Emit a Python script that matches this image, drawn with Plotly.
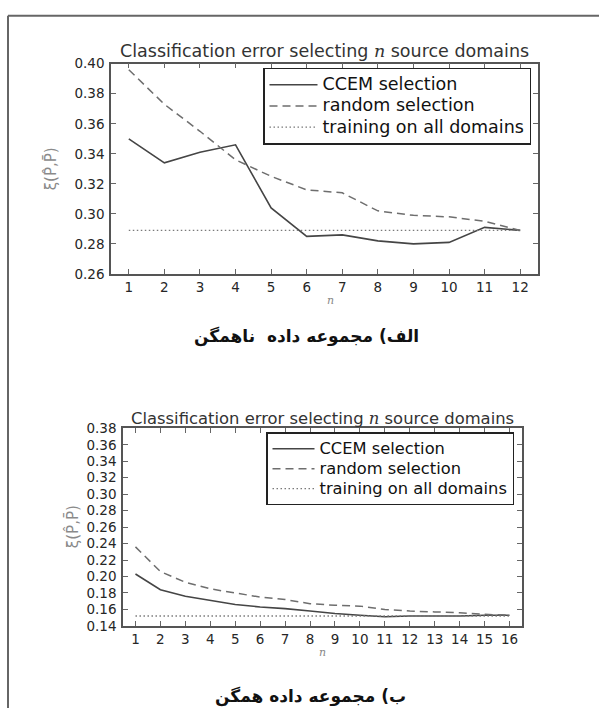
import plotly.graph_objects as go

# ---------------- data ----------------
n_top = list(range(1, 13))
ccem_top = [0.350, 0.334, 0.341, 0.346, 0.304, 0.285, 0.286, 0.282, 0.280, 0.281, 0.291, 0.289]
random_top = [0.396, 0.373, 0.355, 0.336, 0.325, 0.316, 0.314, 0.302, 0.299, 0.298, 0.295, 0.289]
all_top = [0.289] * 12

n_bot = list(range(1, 17))
ccem_bot = [0.203, 0.184, 0.176, 0.171, 0.166, 0.163, 0.161, 0.158, 0.155, 0.153, 0.151, 0.152, 0.152, 0.152, 0.153, 0.153]
random_bot = [0.236, 0.206, 0.193, 0.185, 0.180, 0.175, 0.172, 0.167, 0.165, 0.164, 0.160, 0.158, 0.157, 0.156, 0.154, 0.153]
all_bot = [0.152] * 16

series_names = ["CCEM selection", "random selection", "training on all domains"]
title_text = "Classification error selecting <i><span style='font-family:DejaVu Serif'>n</span></i> source domains"
caption_top = "الف) مجموعه داده  ناهمگن"
caption_bot = "ب) مجموعه داده همگن"
ylabel_text = "ξ(P̂,P̄)"

W, H = 599, 716
FONT = "DejaVu Sans"


def px(x):
    return x / W


def py(y):
    return 1 - y / H


fig = go.Figure()

styles = [
    dict(color="#454545", width=1.6, dash="solid"),
    dict(color="#6e6e6e", width=1.5, dash="8px,5px"),
    dict(color="#7a7a7a", width=1.3, dash="1.5px,2.5px"),
]

for ys, leg, xa, ya, xs, fs in [
    ((ccem_top, random_top, all_top), "legend", "x", "y", n_top, 17.5),
    ((ccem_bot, random_bot, all_bot), "legend2", "x2", "y2", n_bot, 16.3),
]:
    for name, yv, st in zip(series_names, ys, styles):
        fig.add_trace(go.Scatter(
            x=xs, y=yv, mode="lines",
            name="<span style='font-size:%spx'>%s</span>" % (fs, name),
            line=st, xaxis=xa, yaxis=ya, legend=leg,
            showlegend=True,
        ))

axis_common = dict(
    showline=True, linecolor="#555555", linewidth=1.5, mirror="ticks",
    ticks="inside", ticklen=5, tickwidth=1, tickcolor="#666666",
    showgrid=False, zeroline=False,
    tickfont=dict(family=FONT, size=13.5, color="#262626"),
)

fig.update_layout(
    width=W, height=H,
    margin=dict(l=0, r=0, t=0, b=0),
    paper_bgcolor="white", plot_bgcolor="white",
    xaxis=dict(domain=[px(111), px(538)], range=[0.5, 12.5], anchor="y",
               tickmode="array", tickvals=n_top, **axis_common),
    yaxis=dict(domain=[py(272), py(57)], range=[0.26, 0.40], anchor="x",
               tickmode="linear", tick0=0.26, dtick=0.02, tickformat=".2f",
               ticklabelstandoff=2, **axis_common),
    xaxis2=dict(domain=[px(123), px(522)], range=[0.5, 16.5], anchor="y2",
                tickmode="array", tickvals=n_bot, **axis_common),
    yaxis2=dict(domain=[py(632), py(430)], range=[0.14, 0.38], anchor="x2",
                tickmode="linear", tick0=0.14, dtick=0.02, tickformat=".2f",
                ticklabelstandoff=2, **axis_common),
    legend=dict(
        x=px(263), y=py(61), xanchor="left", yanchor="top",
        bordercolor="#222222", borderwidth=1.5, bgcolor="white",
        font=dict(family=FONT, size=14, color="#111111"),
        itemwidth=48, tracegroupgap=0,
    ),
    legend2=dict(
        x=px(266), y=py(434), xanchor="left", yanchor="top",
        bordercolor="#222222", borderwidth=1.5, bgcolor="white",
        font=dict(family=FONT, size=13, color="#111111"),
        itemwidth=42, tracegroupgap=0,
    ),
    showlegend=True,
)

annotations = [
    dict(text=title_text, x=px(324.5), y=py(44), xanchor="center", yanchor="middle",
         font=dict(family=FONT, size=17.5, color="#333333")),
    dict(text=title_text, x=px(322.5), y=py(419.5), xanchor="center", yanchor="middle",
         font=dict(family=FONT, size=16.4, color="#333333")),
    dict(text=ylabel_text, x=px(51), y=py(165), textangle=-90, xanchor="center", yanchor="middle",
         font=dict(family=FONT, size=15, color="#8a8a8a")),
    dict(text=ylabel_text, x=px(72), y=py(531), textangle=-90, xanchor="center", yanchor="middle",
         font=dict(family=FONT, size=15, color="#8a8a8a")),
    dict(text="<i>n</i>", x=px(330), y=py(299), xanchor="center", yanchor="middle",
         font=dict(family="DejaVu Serif", size=11, color="#888888")),
    dict(text="<i>n</i>", x=px(322), y=py(659), xanchor="center", yanchor="middle",
         font=dict(family="DejaVu Serif", size=11, color="#888888")),
    dict(text="<b>" + caption_top + "</b>", x=px(307), y=py(336), xanchor="center", yanchor="middle",
         font=dict(family=FONT, size=17, color="#111111")),
    dict(text="<b>" + caption_bot + "</b>", x=px(310), y=py(704), xanchor="center", yanchor="middle",
         font=dict(family=FONT, size=17, color="#111111")),
]
for a in annotations:
    a.update(xref="paper", yref="paper", showarrow=False)
fig.update_layout(annotations=annotations)

# page frame (left and top border)
fig.add_shape(type="line", xref="paper", yref="paper", x0=px(8), x1=px(8), y0=0, y1=py(8),
              line=dict(color="#666666", width=2))
fig.add_shape(type="line", xref="paper", yref="paper", x0=px(8), x1=1, y0=py(8), y1=py(8),
              line=dict(color="#666666", width=2))

post = (
    "document.body.style.margin='0';"
    "var d=document.getElementById('{plot_id}');"
    "d.style.position='absolute';d.style.left='0px';d.style.top='0px';"
)
fig.write_html("out.html", post_script=post, config={"displayModeBar": False})
